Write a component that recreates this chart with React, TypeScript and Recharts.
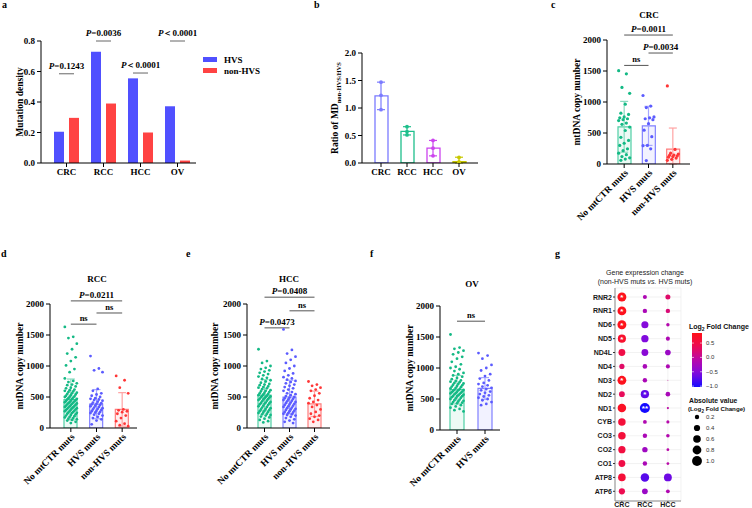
import React from "react";
import {
  ComposedChart,
  ScatterChart,
  Bar,
  Cell,
  Scatter,
  ErrorBar,
  XAxis,
  YAxis,
  ZAxis,
  ReferenceLine,
  CartesianGrid,
  Legend,
} from "recharts";

const SERIF = '"Liberation Serif", "Times New Roman", serif';
const SANS = '"Liberation Sans", Arial, sans-serif';

// ---- a: mutation density
const cancers = ["CRC", "RCC", "HCC", "OV"];
const hvsDensity = [0.205, 0.73, 0.555, 0.372];
const nonHvsDensity = [0.296, 0.39, 0.2, 0.016];
const aPLabels = ["P=0.1243", "P=0.0036", "P＜0.0001", "P＜0.0001"];
const aPHeights = [0.585, 0.8, 0.59, 0.8];

// ---- b: ratio of MD
const ratioMeans = [1.22, 0.575, 0.27, 0.025];
const ratioErr = [[0.25, 0.25], [0.065, 0.085], [0.14, 0.14], [0.025, 0.08]];
const ratioPoints = [
  [1.47, 1.23, 0.97],
  [0.66, 0.57, 0.51],
  [0.41, 0.27, 0.13],
  [0.1, 0.02, 0.0],
];
const ratioColors = ["#7b7bff", "#1fbf8c", "#cc44ee", "#c8c800"];

// ---- c-f: mtDNA copy number
const groups = ["No mtCTR muts", "HVS muts", "non-HVS muts"];
const groupColors = ["#14b985", "#5b5bff", "#ff3636"];
const barColors = ["#4fcfa5", "#8080ff", "#ff7d7d"];
const whiskerColors = ["#8adcc0", "#a6a6ff", "#ffa3a3"];

const crcMeans = [600, 615, 240];
const crcSd = [[410, 410], [315, 315], [240, 340]];
const crcNoMut = [1505, 1455, 1235, 1140, 965, 820, 800, 760, 745, 730, 715, 700, 660, 640, 595, 540, 430, 380, 335, 300, 245, 215, 175, 150, 120, 100, 80, 60];
const crcHvs = [1105, 935, 910, 760, 745, 730, 715, 650, 545, 440, 300, 295, 245, 55];
const crcNonHvs = [1260, 235, 175, 160, 145, 140, 130, 120, 110, 95, 75, 60];
const crcBrackets = [
  { from: 0, to: 2, y: 2080, label: "P=0.0011" },
  { from: 1, to: 2, y: 1790, label: "P=0.0034" },
  { from: 0, to: 1, y: 1590, label: "ns" },
];

const rccMeans = [460, 385, 300];
const rccSd = [[330, 330], [235, 235], [270, 270]];
const rccNoMut = [1630, 1470, 1450, 1360, 1270, 1200, 1140, 1080, 1010, 950, 900, 800, 760, 740, 720, 700, 690, 670, 650, 640, 620, 610, 600, 590, 580, 570, 560, 550, 540, 530, 520, 510, 505, 500, 490, 480, 470, 465, 460, 450, 440, 435, 430, 420, 415, 410, 400, 395, 390, 380, 375, 370, 360, 355, 350, 340, 335, 330, 320, 315, 310, 300, 295, 290, 280, 275, 270, 260, 250, 245, 240, 230, 220, 210, 200, 190, 180, 170, 160, 150, 140, 130, 120, 100, 80];
const rccHvs = [1160, 960, 930, 900, 630, 600, 560, 540, 520, 500, 480, 470, 460, 450, 440, 425, 410, 400, 390, 380, 370, 360, 350, 340, 330, 320, 310, 300, 290, 280, 270, 260, 250, 240, 230, 215, 200, 180, 160, 140, 120, 60];
const rccNonHvs = [840, 770, 650, 560, 300, 285, 270, 255, 230, 200, 160, 110, 70, 45, 30];
const rccBrackets = [
  { from: 0, to: 2, y: 2050, label: "P=0.0211" },
  { from: 1, to: 2, y: 1855, label: "ns" },
  { from: 0, to: 1, y: 1675, label: "ns" },
];

const hccMeans = [530, 500, 390];
const hccSd = [[250, 250], [270, 270], [205, 205]];
const hccNoMut = [1270, 1080, 1050, 1000, 970, 950, 930, 910, 890, 870, 850, 830, 810, 790, 770, 750, 730, 710, 700, 690, 670, 660, 650, 640, 625, 610, 600, 590, 580, 570, 560, 550, 540, 530, 520, 515, 510, 500, 495, 490, 480, 470, 465, 460, 450, 440, 430, 420, 410, 400, 395, 390, 380, 370, 360, 350, 340, 330, 320, 310, 300, 290, 280, 270, 260, 250, 240, 230, 220, 210, 200, 185, 170, 150, 130, 110, 90];
const hccHvs = [1590, 1260, 1200, 1150, 1100, 1050, 1000, 960, 920, 880, 850, 820, 800, 780, 760, 740, 720, 700, 680, 660, 640, 620, 600, 580, 560, 545, 530, 515, 500, 490, 480, 470, 460, 450, 440, 430, 420, 410, 400, 390, 380, 370, 360, 350, 340, 330, 320, 310, 300, 290, 280, 270, 260, 250, 240, 230, 220, 210, 200, 180, 160, 140, 120, 100, 80];
const hccNonHvs = [750, 700, 680, 650, 620, 600, 560, 520, 480, 450, 420, 400, 370, 340, 300, 260, 230, 200, 180, 150, 130, 100];
const hccBrackets = [
  { from: 0, to: 2, y: 2110, label: "P=0.0408" },
  { from: 1, to: 2, y: 1890, label: "ns" },
  { from: 0, to: 1, y: 1615, label: "P=0.0473" },
];

const ovMeans = [650, 670];
const ovSd = [[230, 230], [175, 175]];
const ovNoMut = [1540, 1330, 1310, 1280, 1250, 1220, 1180, 1150, 1100, 1060, 1020, 1000, 980, 950, 920, 900, 880, 860, 840, 820, 800, 790, 780, 770, 760, 750, 740, 730, 720, 710, 700, 690, 680, 670, 660, 650, 645, 640, 630, 620, 615, 610, 600, 595, 590, 580, 575, 570, 560, 550, 545, 540, 530, 520, 510, 500, 490, 480, 470, 460, 450, 440, 430, 420, 400, 380, 360, 340, 320, 300];
const ovHvs = [1240, 1200, 1150, 1050, 1000, 960, 900, 870, 830, 800, 760, 740, 720, 700, 680, 660, 640, 620, 600, 580, 560, 540, 520, 500, 480, 450, 420, 400];
const ovBrackets = [{ from: 0, to: 1, y: 1755, label: "ns" }];

// ---- g: gene expression change (log2 fold change)
const genes = ["RNR2", "RNR1", "ND6", "ND5", "ND4L", "ND4", "ND3", "ND2", "ND1", "CYB", "CO3", "CO2", "CO1", "ATP8", "ATP6"];
const exprCancers = ["CRC", "RCC", "HCC"];
const fcCRC = [0.82, 0.8, 0.82, 0.68, 0.48, 0.28, 0.8, 0.34, 0.74, 0.58, 0.58, 0.54, 0.48, 0.6, 0.4];
const fcRCC = [-0.17, -0.2, -0.52, -0.55, -0.48, -0.22, -0.2, -0.7, -1.03, -0.15, -0.2, -0.3, -0.2, -0.74, -0.34];
const fcHCC = [0.26, 0.2, -0.12, -0.17, -0.33, -0.17, 0.01, -0.22, -0.05, -0.1, -0.13, -0.08, -0.08, -0.64, -0.15];
const sigCRC = ["*", "*", "*", "*", "", "", "*", "", "", "", "", "", "", "", ""];
const sigRCC = ["", "", "", "", "", "", "", "*", "**", "", "", "", "", "", ""];
const sigHCC = ["", "", "", "", "", "", "", "", "", "", "", "", "", "", ""];
const sizeLegend = [0.2, 0.4, 0.6, 0.8, 1.0];
const FC_MIN = -1.03;
const FC_MAX = 0.85;

const gradStops: [number, number, number, number][] = [
  [0, 20, 10, 255],
  [0.25, 128, 10, 222],
  [0.5, 184, 8, 170],
  [0.75, 236, 12, 84],
  [1, 255, 18, 24],
];
function fcColor(v: number) {
  const t = Math.max(0, Math.min(1, (v - FC_MIN) / (FC_MAX - FC_MIN)));
  let k = 0;
  while (k < gradStops.length - 2 && t > gradStops[k + 1][0]) k++;
  const a = gradStops[k];
  const b = gradStops[k + 1];
  const f = (t - a[0]) / (b[0] - a[0]);
  const c = [1, 2, 3].map((j) => Math.round(a[j] + (b[j] - a[j]) * f));
  return `rgb(${c[0]},${c[1]},${c[2]})`;
}

const tickStyle = { fontSize: 9, fontWeight: 700, fill: "#000", fontFamily: SERIF };
const axisLine = { stroke: "#000", strokeWidth: 1 };

function pText(s: string, x: number, y: number, size = 9) {
  if (s.startsWith("P")) {
    return (
      <text x={x} y={y} textAnchor="middle" fontSize={size} fontWeight={700} fontFamily={SERIF} fill="#000">
        <tspan fontStyle="italic">P</tspan>
        {s.slice(1)}
      </text>
    );
  }
  return (
    <text x={x} y={y} textAnchor="middle" fontSize={size - 0.5} fontWeight={700} fontFamily={SERIF} fill="#000">
      {s}
    </text>
  );
}

const yTitle = (content: React.ReactNode, dx: number) => (p: any) => {
  const vb = p.viewBox || {};
  const x = (vb.x ?? 0) + dx;
  const y = (vb.y ?? 0) + (vb.height ?? 0) / 2;
  return (
    <text x={x} y={y} transform={`rotate(-90 ${x} ${y})`} textAnchor="middle" dominantBaseline="central" fontSize={9.5} fontWeight={700} fontFamily={SERIF} fill="#000">
      {content}
    </text>
  );
};

const bracketLabel = (s: string) => (p: any) => {
  const vb = p.viewBox || {};
  let x: number;
  let y: number;
  if (vb.x1 !== undefined) {
    x = (vb.x1 + vb.x2) / 2;
    y = vb.y1;
  } else {
    x = vb.x + (vb.width ?? 0) / 2;
    y = vb.y;
  }
  return pText(s, x, y - 3);
};

function SlantTick(p: any) {
  const x = p.x + 2;
  const y = p.y + 1;
  return (
    <text x={x} y={y} transform={`rotate(-45 ${x} ${y})`} textAnchor="end" dy="0.35em" fontSize={9.5} fontWeight={700} fontFamily={SERIF} fill="#000">
      {p.payload.value}
    </text>
  );
}

const jitterDot = (color: string, r: number, spread: number) => (p: any) => {
  const k = p.payload.i;
  const off = ((((k * 7) % 11) - 5) / 5) * spread;
  return <circle cx={p.cx + off} cy={p.cy} r={r} fill={color} />;
};

const hidden = () => <g />;

function PanelA() {
  const data = cancers.map((c, i) => ({ cat: c, hvs: hvsDensity[i], non: nonHvsDensity[i] }));
  const pData = cancers.map((c, i) => ({ cat: c, v: aPHeights[i], label: aPLabels[i] }));
  return (
    <div style={{ position: "absolute", left: 0, top: 0 }}>
      <ComposedChart width={250} height={190} data={data} barGap={5} margin={{ top: 41, right: 54, bottom: 0, left: 0 }}>
        <XAxis dataKey="cat" allowDuplicatedCategory={false} height={27} padding={{ left: 7, right: 0 }} tickSize={4} tick={tickStyle} axisLine={axisLine} tickLine={axisLine} />
        <YAxis type="number" domain={[0, 0.8]} ticks={[0, 0.2, 0.4, 0.6, 0.8]} width={41} tickSize={4} tickFormatter={(v) => v.toFixed(1)} tick={tickStyle} axisLine={axisLine} tickLine={axisLine} label={yTitle("Mutation density", 20)} />
        <Bar dataKey="hvs" name="HVS" fill="#5050ff" barSize={10} isAnimationActive={false} />
        <Bar dataKey="non" name="non-HVS" fill="#ff4343" barSize={10} isAnimationActive={false} />
        <Scatter
          data={pData}
          dataKey="v"
          legendType="none"
          isAnimationActive={false}
          shape={(p: any) => (
            <g>
              <line x1={p.cx - 7.5} x2={p.cx + 7.5} y1={p.cy} y2={p.cy} stroke="#666" strokeWidth={1} />
              {pText(p.payload.label, p.cx, p.cy - 5)}
            </g>
          )}
        />
        <Legend
          layout="vertical"
          align="center"
          verticalAlign="middle"
          wrapperStyle={{ position: "absolute", left: 203, top: 54, width: 60 }}
          content={(lp: any) => (
            <div>
              {(lp.payload || [])
                .filter((e: any) => e.type !== "none")
                .map((e: any) => (
                  <div key={e.value} style={{ display: "flex", alignItems: "center", height: 11 }}>
                    <span style={{ width: 14, height: 5, background: e.color, display: "inline-block" }} />
                    <span style={{ marginLeft: 7, fontSize: 9, fontWeight: 700, fontFamily: SERIF }}>{e.value}</span>
                  </div>
                ))}
            </div>
          )}
        />
      </ComposedChart>
    </div>
  );
}

function PanelB() {
  const data = cancers.map((c, i) => ({ cat: c, v: ratioMeans[i] }));
  return (
    <div style={{ position: "absolute", left: 322, top: 0 }}>
      <ComposedChart width={170} height={190} data={data} margin={{ top: 53, right: 14, bottom: 0, left: 0 }}>
        <XAxis dataKey="cat" allowDuplicatedCategory={false} height={27} padding={{ left: 6, right: 6 }} tickSize={4} tick={tickStyle} axisLine={axisLine} tickLine={axisLine} />
        <YAxis
          type="number"
          domain={[0, 2]}
          ticks={[0, 0.5, 1, 1.5, 2]}
          allowDataOverflow
          width={40}
          tickSize={4}
          tickFormatter={(v) => v.toFixed(1)}
          tick={tickStyle}
          axisLine={axisLine}
          tickLine={axisLine}
          label={yTitle(
            <>
              Ratio of MD
              <tspan fontSize={6.5} dy={2.5}>non-HVS/HVS</tspan>
            </>,
            13
          )}
        />
        <Bar dataKey="v" barSize={13} isAnimationActive={false}>
          {cancers.map((c, i) => (
            <Cell key={c} fill="#fff" stroke={ratioColors[i]} strokeWidth={1.3} />
          ))}
        </Bar>
        {cancers.map((c, i) => (
          <Scatter key={"e" + c} data={[{ cat: c, v: ratioMeans[i], err: ratioErr[i] }]} dataKey="v" shape={hidden} isAnimationActive={false}>
            <ErrorBar dataKey="err" direction="y" width={4} stroke={ratioColors[i]} strokeWidth={1.2} />
          </Scatter>
        ))}
        {cancers.map((c, i) => (
          <Scatter
            key={"p" + c}
            data={ratioPoints[i].map((v, k) => ({ cat: c, v, i: k }))}
            dataKey="v"
            isAnimationActive={false}
            shape={(p: any) => <circle cx={p.cx} cy={p.cy} r={1.9} fill={ratioColors[i]} />}
          />
        ))}
      </ComposedChart>
    </div>
  );
}

type Bracket = { from: number; to: number; y: number; label: string };

function MtPanel(props: {
  left: number;
  top: number;
  width: number;
  height: number;
  yWidth: number;
  mTop: number;
  mRight: number;
  padL: number;
  padR: number;
  cats: string[];
  means: number[];
  sds: number[][];
  points: number[][];
  brackets: Bracket[];
  titleDx: number;
  barSize: number;
  spread: number;
  r: number;
}) {
  const { cats, means, sds, points, brackets } = props;
  const data = cats.map((c, i) => ({ cat: c, v: means[i] }));
  return (
    <div style={{ position: "absolute", left: props.left, top: props.top }}>
      <ComposedChart width={props.width} height={props.height} data={data} margin={{ top: props.mTop, right: props.mRight, bottom: 0, left: 0 }}>
        <XAxis dataKey="cat" allowDuplicatedCategory={false} height={props.height - props.mTop - 124} padding={{ left: props.padL, right: props.padR }} tickSize={4} interval={0} tick={SlantTick} axisLine={axisLine} tickLine={axisLine} />
        <YAxis type="number" domain={[0, 2000]} ticks={[0, 500, 1000, 1500, 2000]} allowDataOverflow width={props.yWidth} tickSize={4} tick={tickStyle} axisLine={axisLine} tickLine={axisLine} label={yTitle("mtDNA copy number", props.titleDx)} />
        <Bar dataKey="v" barSize={props.barSize} isAnimationActive={false}>
          {cats.map((c, i) => (
            <Cell key={c} fill={groupColors[i]} fillOpacity={0.08} stroke={barColors[i]} strokeWidth={1.2} />
          ))}
        </Bar>
        {cats.map((c, i) => (
          <Scatter key={"e" + c} data={[{ cat: c, v: means[i], err: sds[i] }]} dataKey="v" shape={hidden} isAnimationActive={false}>
            <ErrorBar dataKey="err" direction="y" width={4} stroke={whiskerColors[i]} strokeWidth={1.2} />
          </Scatter>
        ))}
        {cats.map((c, i) => (
          <Scatter
            key={"p" + c}
            data={points[i].map((v, k) => ({ cat: c, v, i: k }))}
            dataKey="v"
            isAnimationActive={false}
            shape={jitterDot(groupColors[i], props.r, props.spread)}
          />
        ))}
        {brackets.map((b, k) => (
          <ReferenceLine
            key={k}
            ifOverflow="visible"
            segment={[
              { x: cats[b.from], y: b.y },
              { x: cats[b.to], y: b.y },
            ]}
            stroke="#555"
            strokeWidth={1}
            label={bracketLabel(b.label)}
          />
        ))}
      </ComposedChart>
    </div>
  );
}

function ExprDot(p: any) {
  const r = Math.sqrt(Math.max(p.size || 0, 0) / Math.PI);
  const v = p.payload.v;
  return (
    <g>
      <circle cx={p.cx} cy={p.cy} r={r} fill={fcColor(v)} />
      {p.payload.sig ? (
        <text x={p.cx} y={p.cy + 3.2} textAnchor="middle" fontSize={8} fontWeight={700} fill="#fff" fontFamily={SANS}>
          {p.payload.sig}
        </text>
      ) : null}
    </g>
  );
}

function PanelG() {
  const fcs = [fcCRC, fcRCC, fcHCC];
  const sigs = [sigCRC, sigRCC, sigHCC];
  const rows = exprCancers.flatMap((c, j) =>
    genes.map((g, i) => ({ x: j + 1, y: genes.length - i, v: fcs[j][i], s: Math.abs(fcs[j][i]), sig: sigs[j][i] }))
  );
  const yTicks = genes.map((g, i) => genes.length - i);
  const gTick = { fontSize: 7, fontWeight: 700, fill: "#1a1a1a", fontFamily: SANS };
  return (
    <div style={{ position: "absolute", left: 560, top: 240 }}>
      <ScatterChart width={192} height={268} margin={{ top: 48, right: 71, bottom: 0, left: 0 }}>
        <CartesianGrid stroke="#ececec" strokeWidth={0.7} />
        <XAxis type="number" dataKey="x" domain={[0.7, 3.57]} ticks={[1, 2, 3]} allowDataOverflow tickFormatter={(t) => exprCancers[t - 1]} height={7} tickSize={1.5} tickMargin={0} tick={gTick} axisLine={{ stroke: "#8c8c8c" }} tickLine={{ stroke: "#333" }} />
        <XAxis xAxisId="top" orientation="top" type="number" domain={[0.7, 3.57]} allowDataOverflow height={0} tick={false} tickLine={false} axisLine={{ stroke: "#8c8c8c" }} />
        <YAxis type="number" dataKey="y" domain={[0.3, 15.65]} ticks={yTicks} interval={0} allowDataOverflow tickFormatter={(t) => genes[genes.length - t]} width={55} tickSize={2} tickMargin={1} tick={gTick} axisLine={{ stroke: "#8c8c8c" }} tickLine={{ stroke: "#333" }} />
        <YAxis yAxisId="right" orientation="right" type="number" domain={[0.3, 15.65]} allowDataOverflow width={0} tick={false} tickLine={false} axisLine={{ stroke: "#8c8c8c" }} />
        <ZAxis type="number" dataKey="s" domain={[0, 1.05]} range={[0, 80]} />
        <Scatter data={rows} shape={ExprDot} isAnimationActive={false} />
      </ScatterChart>
    </div>
  );
}

function Overlay() {
  const letter = (s: string, x: number, y: number) => (
    <text x={x} y={y} fontSize={10} fontWeight={700} fontFamily={SERIF} fill="#000">
      {s}
    </text>
  );
  const title = (s: string, x: number, y: number) => (
    <text x={x} y={y} textAnchor="middle" fontSize={9} fontWeight={700} fontFamily={SERIF} fill="#000">
      {s}
    </text>
  );
  const barTop = 333;
  const barH = 54;
  const fcToY = (v: number) => barTop + ((FC_MAX - v) / (FC_MAX - FC_MIN)) * barH;
  const gradVals = [0, 0.1, 0.2, 0.3, 0.4, 0.5, 0.6, 0.7, 0.8, 0.9, 1];
  return (
    <svg width={752} height={508} style={{ position: "absolute", left: 0, top: 0, pointerEvents: "none" }}>
      <defs>
        <linearGradient id="fcgrad" x1="0" y1="0" x2="0" y2="1">
          {gradVals.map((t) => (
            <stop key={t} offset={t} stopColor={fcColor(FC_MAX - t * (FC_MAX - FC_MIN))} />
          ))}
        </linearGradient>
      </defs>
      {letter("a", 2, 8)}
      {letter("b", 314, 8)}
      {letter("c", 551, 8)}
      {letter("d", 1, 257)}
      {letter("e", 186, 257)}
      {letter("f", 370, 257)}
      {letter("g", 555, 257)}
      {title("CRC", 649, 18)}
      {title("RCC", 97, 282)}
      {title("HCC", 289, 282)}
      {title("OV", 472, 287)}
      <text x={645} y={275} textAnchor="middle" fontSize={7} fontFamily={SANS} fill="#222">
        Gene expression change
      </text>
      <text x={645} y={284} textAnchor="middle" fontSize={7} fontFamily={SANS} fill="#222">
        (non-HVS muts <tspan fontStyle="italic">vs.</tspan> HVS muts)
      </text>
      <text x={689} y={329} fontSize={7} fontWeight={700} fontFamily={SANS} fill="#111">
        Log<tspan fontSize={5} dy={1.5}>2</tspan>
        <tspan dy={-1.5}> Fold Change</tspan>
      </text>
      <rect x={692} y={barTop} width={10} height={barH} fill="url(#fcgrad)" />
      {[0.5, 0, -0.5, -1].map((v) => (
        <g key={v}>
          <line x1={692} x2={694} y1={fcToY(v)} y2={fcToY(v)} stroke="#fff" strokeWidth={0.6} />
          <line x1={700} x2={702} y1={fcToY(v)} y2={fcToY(v)} stroke="#fff" strokeWidth={0.6} />
          <text x={706} y={fcToY(v) + 2} fontSize={6} fontFamily={SANS} fill="#333">
            {v === 0 ? "0.0" : v.toFixed(1).replace("-", "−")}
          </text>
        </g>
      ))}
      <text x={689} y={403} fontSize={6.8} fontWeight={700} fontFamily={SANS} fill="#111">
        Absolute value
      </text>
      <text x={688} y={411} fontSize={6.2} fontWeight={700} fontFamily={SANS} fill="#111">
        (Log<tspan fontSize={4.5} dy={1.5}>2</tspan>
        <tspan dy={-1.5}> Fold Change)</tspan>
      </text>
      {sizeLegend.map((s, k) => {
        const y = 417 + k * 11;
        const r = Math.sqrt(((s / 1.05) * 80) / Math.PI);
        return (
          <g key={s}>
            <circle cx={697} cy={y} r={r} fill="#000" />
            <text x={706} y={y + 2} fontSize={6} fontFamily={SANS} fill="#333">
              {s.toFixed(1)}
            </text>
          </g>
        );
      })}
    </svg>
  );
}

export default function App() {
  return (
    <div style={{ position: "absolute", left: 0, top: 0, width: 752, height: 508, background: "#fff", fontFamily: SERIF }}>
      <PanelA />
      <PanelB />
      <MtPanel left={560} top={0} width={192} height={240} yWidth={47} mTop={40} mRight={62} padL={5} padR={5} cats={groups} means={crcMeans} sds={crcSd} points={[crcNoMut, crcHvs, crcNonHvs]} brackets={crcBrackets} titleDx={17} barSize={13} spread={5.5} r={1.6} />
      <MtPanel left={0} top={240} width={180} height={268} yWidth={50} mTop={64} mRight={43} padL={8} padR={2} cats={groups} means={rccMeans} sds={rccSd} points={[rccNoMut, rccHvs, rccNonHvs]} brackets={rccBrackets} titleDx={20} barSize={13} spread={6} r={1.4} />
      <MtPanel left={190} top={240} width={160} height={268} yWidth={57} mTop={64} mRight={20} padL={5} padR={3} cats={groups} means={hccMeans} sds={hccSd} points={[hccNoMut, hccHvs, hccNonHvs]} brackets={hccBrackets} titleDx={25} barSize={13} spread={6} r={1.4} />
      <MtPanel left={385} top={240} width={130} height={268} yWidth={55} mTop={66} mRight={15} padL={3} padR={1} cats={groups.slice(0, 2)} means={ovMeans} sds={ovSd} points={[ovNoMut, ovHvs]} brackets={ovBrackets} titleDx={25} barSize={14} spread={6.5} r={1.4} />
      <PanelG />
      <Overlay />
    </div>
  );
}
